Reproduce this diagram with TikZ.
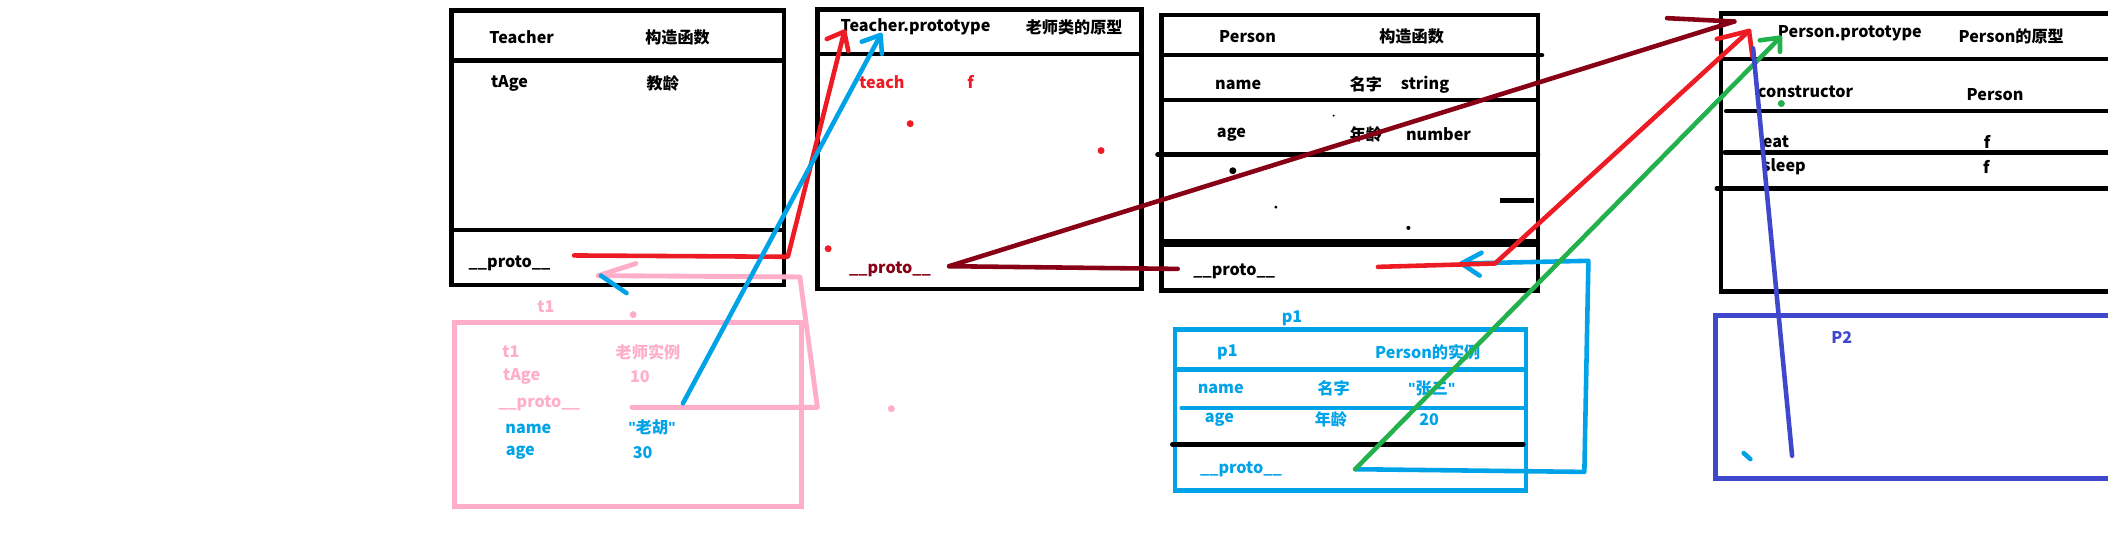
\documentclass[tikz,border=0pt]{standalone}
\usepackage{fontspec}
\setmainfont{Noto Sans CJK SC}
\newfontfamily\latq{Liberation Sans}
\newcommand{\qq}{{\latq\bfseries"}}
\definecolor{pred}{HTML}{ED1C24}
\definecolor{ppink}{HTML}{FFAEC9}
\definecolor{pblue}{HTML}{00A2E8}
\definecolor{pdred}{HTML}{880015}
\definecolor{pgreen}{HTML}{22B14C}
\definecolor{pindigo}{HTML}{3F48CC}
\begin{document}
\begin{tikzpicture}[x=0.5pt,y=-0.5pt,
  bx/.style={draw=black,line width=1.7pt},
  txt/.style={font=\fontsize{6}{7}\selectfont\bfseries,inner sep=0pt,anchor=center},
  ln/.style={line width=1.7pt,line cap=round,line join=round},
  dotmark/.style={inner sep=0pt,minimum size=2.6pt,circle,fill}]
\useasboundingbox[fill=white] (0,0) rectangle (1568,398.7);

% ---------- Teacher box ----------
\draw[bx] (336,8) rectangle (583,212);
\draw[bx] (336,45) -- (583,45);
\draw[bx] (336,171) -- (583,171);
\node[txt] (tT) at (388,28) {Teacher};
\node[txt] (tTc) at (504,28) {构造函数};
\node[txt] (tTa) at (379,62) {tAge};
\node[txt] (tTj) at (493,62) {教龄};
\node[txt] (tTp) at (379,196) {\_\_proto\_\_};

% ---------- Teacher.prototype box ----------
\draw[bx] (608,7) rectangle (849,215);
\draw[bx] (608,40) -- (849,40);
\node[txt] (tP) at (681,20) {Teacher.prototype};
\node[txt] (tPc) at (799,20) {老师类的原型};
\node[txt,text=pred] (tPt) at (656,61) {teach};
\node[txt,text=pred] (tPf) at (722,61) {f};
\node[txt,text=pdred] (tPp) at (662,200) {\_\_proto\_\_};
\node[dotmark,pred] (rd1) at (677,92) {};
\node[dotmark,pred] (rd2) at (819,112) {};
\node[dotmark,pred] (rd3) at (616,185) {};

% ---------- Person box ----------
\draw[bx] (864,11) rectangle (1144,216);
\draw[bx,line cap=round] (864,41) -- (1147,41);
\draw[bx] (864,74.5) -- (1144,74.5);
\draw[bx,line cap=round] (861,115) -- (1144,115);
\draw[draw=black,line width=3pt] (864,181) -- (1144,181);
\draw[bx] (1116,149) -- (1141,149);
\node[txt] (pP) at (928,27) {Person};
\node[txt] (pPc) at (1050,27) {构造函数};
\node[txt] (pPn) at (921,63) {name};
\node[txt] (pPm) at (1016,63) {名字};
\node[txt] (pPs) at (1060,63) {string};
\node[txt] (pPa) at (916,100) {age};
\node[txt] (pPl) at (1016,100) {年龄};
\node[txt] (pPu) at (1070,100) {number};
\node[txt] (pPp) at (918,202) {\_\_proto\_\_};
\node[dotmark,black] (bd1) at (917,127) {};
\node[dotmark,black,minimum size=1.2pt] (bd2) at (949,154) {};
\node[dotmark,black,minimum size=1.5pt] (bd3) at (1047.6,169.5) {};
\node[dotmark,black,minimum size=0.8pt] (bd4) at (992,86) {};

% ---------- Person.prototype box ----------
\draw[bx] (1580,10) -- (1280,10) -- (1280,217) -- (1580,217);
\draw[bx] (1280,44) -- (1580,44);
\draw[bx,line cap=round] (1284,82.6) -- (1580,82.6);
\draw[bx,line cap=round] (1283,113.5) -- (1580,113.5);
\draw[bx,line cap=round] (1277,140) -- (1580,140);
\node[txt] (ppT) at (1376,25) {Person.prototype};
\node[txt] (ppC) at (1496,27) {Person的原型};
\node[txt] (ppK) at (1343,68) {constructor};
\node[txt] (ppKv) at (1484,70) {Person};
\node[txt] (ppE) at (1321,105.5) {eat};
\node[txt] (ppEv) at (1478,105.5) {f};
\node[txt] (ppS) at (1327,124) {sleep};
\node[txt] (ppSv) at (1477.5,124) {f};
\node[dotmark,pgreen] (gd) at (1325,77) {};

% ---------- t1 box ----------
\draw[draw=ppink,line width=1.8pt] (338,240) rectangle (596,377);
\node[txt,text=ppink] (t1l) at (406,228) {t1};
\node[txt,text=ppink] (t1a) at (380,262) {t1};
\node[txt,text=ppink] (t1b) at (482,262) {老师实例};
\node[txt,text=ppink] (t1c) at (388,280) {tAge};
\node[txt,text=ppink] (t1d) at (476,280) {10};
\node[txt,text=ppink] (t1e) at (401,300) {\_\_proto\_\_};
\node[txt,text=pblue] (t1f) at (393,319) {name};
\node[txt,text=pblue] (t1g) at (485,318) {\qq 老胡\qq};
\node[txt,text=pblue] (t1h) at (387,337) {age};
\node[txt,text=pblue] (t1i) at (478,337) {30};
\node[dotmark,ppink] (pd1) at (471,234) {};
\node[dotmark,ppink] (pd2) at (663,304) {};

% ---------- p1 box ----------
\draw[draw=pblue,line width=1.7pt] (874,245) rectangle (1135,365);
\draw[draw=pblue,line width=1.7pt] (874,275) -- (1135,275);
\draw[draw=pblue,line width=1.7pt,line cap=round] (879,303.5) -- (1133,303.5);
\draw[bx,line cap=round] (872,330.5) -- (1133,330.5);
\node[txt,text=pblue] (p1l) at (961,237) {p1};
\node[txt,text=pblue] (p1a) at (913,262) {p1};
\node[txt,text=pblue] (p1b) at (1062,262) {Person的实例};
\node[txt,text=pblue] (p1c) at (908,289) {name};
\node[txt,text=pblue] (p1d) at (992,289) {名字};
\node[txt,text=pblue] (p1e) at (1065,289) {\qq 张三\qq};
\node[txt,text=pblue] (p1f) at (907,312) {age};
\node[txt,text=pblue] (p1g) at (990,312) {年龄};
\node[txt,text=pblue] (p1h) at (1063,312) {20};
\node[txt,text=pblue] (p1i) at (923,349) {\_\_proto\_\_};

% ---------- P2 box ----------
\draw[draw=pindigo,line width=1.7pt] (1580,234.5) -- (1276,234.5) -- (1276,356) -- (1580,356);
\node[txt,text=pindigo] (p2l) at (1370,251) {P2};

% ---------- connector coordinates ----------
\coordinate (r1s) at (427,190);
\coordinate (r1m) at (586,191);
\coordinate (r1t) at (628,23.5);
\coordinate (r1a) at (615,29);
\coordinate (r1b) at (631,38);

\coordinate (b1s) at (508,300);
\coordinate (b1t) at (655,26);
\coordinate (b1a) at (641,31);
\coordinate (b1b) at (656,40);

\coordinate (k1s) at (470,303);
\coordinate (k1m) at (608,303);
\coordinate (k1n) at (595,206);
\coordinate (k1t) at (445,205);
\coordinate (k1a) at (473,196);
\coordinate (k1c) at (447,205);
\coordinate (k1b) at (466,218);

\coordinate (d1s) at (706,198);
\coordinate (d1e) at (876,200);
\coordinate (d1t) at (1290,16);
\coordinate (d1a) at (1240,13.5);

\coordinate (r2s) at (1025,198.5);
\coordinate (r2m) at (1112,196);
\coordinate (r2t) at (1301,23);
\coordinate (r2a) at (1277,29);
\coordinate (r2b) at (1303.5,42);

\coordinate (b2s) at (1008,349);
\coordinate (b2m) at (1178.5,351);
\coordinate (b2n) at (1181.5,194);
\coordinate (b2t) at (1087,196);
\coordinate (b2a) at (1102,188);
\coordinate (b2b) at (1100.6,205);

\coordinate (g1s) at (1008,349);
\coordinate (g1t) at (1324,28);
\coordinate (g1a) at (1309,30);
\coordinate (g1b) at (1324,38.5);

\coordinate (i1s) at (1304,36);
\coordinate (i1e) at (1333,339);
\coordinate (s1a) at (1297,337);
\coordinate (s1b) at (1302,341.5);

% ---------- connectors ----------
\draw[ln,pred] (r1s) -- (r1m) -- (r1t);
\draw[ln,pred] (r1a) -- (r1t) -- (r1b);

\draw[ln,ppink,line width=1.8pt] (k1s) -- (k1m) -- (k1n) -- (k1t);
\draw[ln,ppink,line width=1.8pt] (k1t) -- (k1a);
\draw[ln,pblue] (k1c) -- (k1b);

\draw[ln,pblue] (b1s) -- (b1t);
\draw[ln,pblue] (b1a) -- (b1t) -- (b1b);

\draw[ln,pdred] (d1s) -- (d1e);
\draw[ln,pdred] (d1s) -- (d1t);
\draw[ln,pdred] (d1a) -- (d1t);

\draw[ln,pblue] (b2s) -- (b2m) -- (b2n) -- (b2t);
\draw[ln,pblue] (b2a) -- (b2t) -- (b2b);

\draw[ln,pred] (r2s) -- (r2m) -- (r2t);
\draw[ln,pred] (r2a) -- (r2t) -- (r2b);

\draw[ln,pgreen] (g1s) -- (g1t);
\draw[ln,pgreen] (g1a) -- (g1t) -- (g1b);

\draw[ln,pindigo] (i1s) -- (i1e);
\draw[ln,pblue] (s1a) -- (s1b);
\end{tikzpicture}
\end{document}
